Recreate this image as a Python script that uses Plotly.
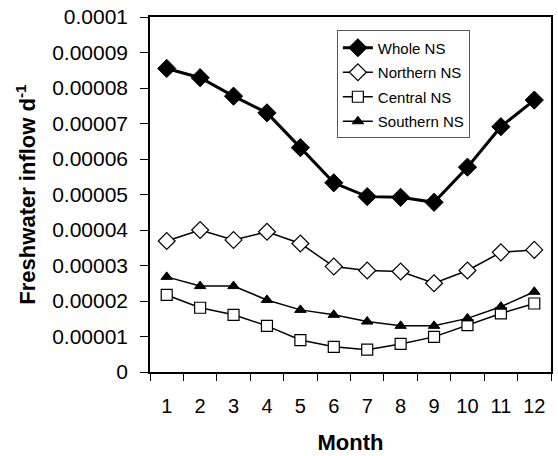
import plotly.graph_objects as go

months = ["1", "2", "3", "4", "5", "6", "7", "8", "9", "10", "11", "12"]
whole_ns = [8.55e-5, 8.29e-5, 7.77e-5, 7.30e-5, 6.32e-5, 5.33e-5, 4.94e-5, 4.92e-5, 4.78e-5, 5.77e-5, 6.91e-5, 7.66e-5]
northern_ns = [3.69e-5, 4.00e-5, 3.72e-5, 3.95e-5, 3.62e-5, 2.97e-5, 2.86e-5, 2.83e-5, 2.50e-5, 2.86e-5, 3.37e-5, 3.44e-5]
central_ns = [2.17e-5, 1.81e-5, 1.61e-5, 1.30e-5, 0.90e-5, 0.71e-5, 0.63e-5, 0.79e-5, 0.99e-5, 1.32e-5, 1.65e-5, 1.93e-5]
southern_ns = [2.68e-5, 2.42e-5, 2.42e-5, 2.03e-5, 1.75e-5, 1.61e-5, 1.42e-5, 1.30e-5, 1.30e-5, 1.51e-5, 1.84e-5, 2.26e-5]

y_ticks = [0, 1e-5, 2e-5, 3e-5, 4e-5, 5e-5, 6e-5, 7e-5, 8e-5, 9e-5, 1e-4]
y_tick_text = ["0", "0.00001", "0.00002", "0.00003", "0.00004", "0.00005",
               "0.00006", "0.00007", "0.00008", "0.00009", "0.0001"]

FONT = "Liberation Sans, Arial, sans-serif"

fig = go.Figure()
fig.add_trace(go.Scatter(
    x=months, y=whole_ns, name="Whole NS", mode="lines+markers", legendgroup="a",
    line=dict(color="black", width=3),
    marker=dict(symbol="diamond", size=14, color="black", line=dict(color="black", width=1)),
))
fig.add_trace(go.Scatter(
    x=months, y=northern_ns, name="Northern NS", mode="lines+markers", legendgroup="b",
    line=dict(color="black", width=1.5),
    marker=dict(symbol="diamond", size=13, color="white", line=dict(color="black", width=1.2)),
))
fig.add_trace(go.Scatter(
    x=months, y=central_ns, name="Central NS", mode="lines+markers", legendgroup="c",
    line=dict(color="black", width=1.5),
    marker=dict(symbol="square", size=11, color="white", line=dict(color="black", width=1.2)),
))
fig.add_trace(go.Scatter(
    x=months, y=southern_ns, name="Southern NS", mode="lines+markers", legendgroup="d",
    line=dict(color="black", width=1.5),
    marker=dict(symbol="triangle-up", size=10, color="black", line=dict(color="black", width=1)),
))

fig.update_layout(
    width=558, height=456,
    margin=dict(l=150, r=5, t=17, b=84),
    paper_bgcolor="white", plot_bgcolor="white",
    font=dict(family=FONT, color="black", size=20),
    legend=dict(
        x=0.466, y=0.962, xref="paper", yref="paper",
        xanchor="left", yanchor="top",
        bordercolor="#555555", borderwidth=1, bgcolor="white",
        font=dict(size=15, family=FONT), tracegroupgap=2,
    ),
    xaxis=dict(
        type="category", range=[-0.5, 11.5],
        tickson="boundaries", ticks="outside", ticklen=7, tickcolor="black",
        showline=True, linecolor="black", linewidth=1.5, mirror=True,
        showgrid=False, zeroline=False,
        tickfont=dict(size=20), ticklabelstandoff=15,
        title=dict(text="<b>Month</b>", font=dict(size=22), standoff=19),
    ),
    yaxis=dict(
        range=[0, 1e-4], tickmode="array", tickvals=y_ticks, ticktext=y_tick_text,
        ticks="outside", ticklen=8, tickcolor="black",
        showline=True, linecolor="black", linewidth=1.5, mirror=True,
        showgrid=False, zeroline=False,
        tickfont=dict(size=21), ticklabelstandoff=8,
        title=dict(text="<b>Freshwater inflow d<sup>-1</sup></b>", font=dict(size=22), standoff=10),
    ),
)

fig.write_html("out.html")
